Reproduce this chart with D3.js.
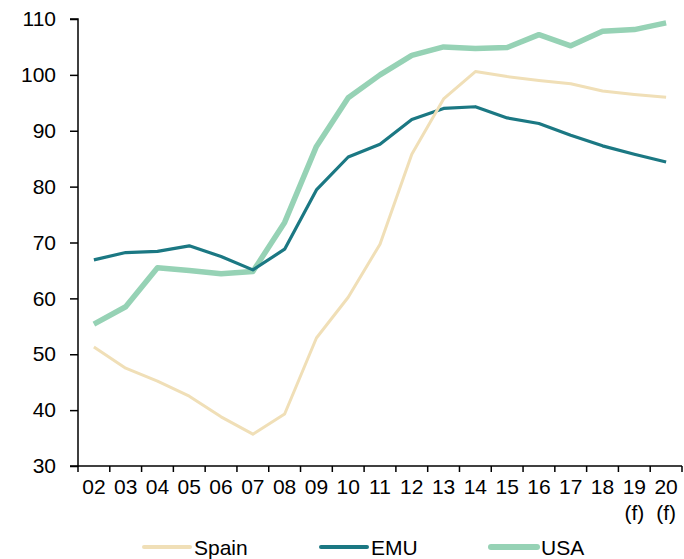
<!DOCTYPE html>
<html>
<head>
<meta charset="utf-8">
<script src="https://cdn.jsdelivr.net/npm/d3@7"></script>
<style>
  body { margin: 0; background: #fff; }
  text { font-family: "Liberation Sans", Arial, sans-serif; fill: #000; }
</style>
</head>
<body>
<div id="chart"></div>
<script>
var years = ['02','03','04','05','06','07','08','09','10','11','12','13','14','15','16','17','18','19','20'];
var forecast = ['19','20'];
var spain = [51.3,47.5,45.2,42.5,38.8,35.7,39.3,52.9,60.2,69.7,85.8,95.7,100.6,99.7,99.0,98.4,97.1,96.5,96.0];
var emu = [66.9,68.2,68.4,69.4,67.5,65.1,68.8,79.4,85.3,87.6,92.0,94.0,94.3,92.3,91.3,89.2,87.3,85.8,84.4];
var usa = [55.4,58.5,65.5,65.0,64.4,64.8,73.6,87.2,95.9,100.0,103.5,105.0,104.7,104.9,107.2,105.2,107.8,108.1,109.3];
var yTicks = [30,40,50,60,70,80,90,100,110];

var series = [
  { name: 'USA', values: usa, color: '#96d2b5', w: 5.5, lw: 6 },
  { name: 'EMU', values: emu, color: '#1b7883', w: 3.2, lw: 4 },
  { name: 'Spain', values: spain, color: '#f0dfb7', w: 3, lw: 4 }
];
var legendOrder = ['Spain','EMU','USA'];

var W = 684, H = 559;
var margin = { top: 19, right: 2, bottom: 93, left: 78 };
var width = W - margin.left - margin.right,
    height = H - margin.top - margin.bottom;

var svg = d3.select('#chart').append('svg')
    .attr('width', W)
    .attr('height', H);

var graph = svg.append('g')
    .attr('transform', 'translate(' + margin.left + ',' + margin.top + ')');

var x = d3.scaleBand().domain(years).range([0, width]);
var y = d3.scaleLinear().domain([30, 110]).range([height, 0]);

// y axis
var yAxis = graph.append('g')
    .call(d3.axisLeft(y).tickValues(yTicks).tickSize(8).tickPadding(14));
yAxis.selectAll('text').style('font-size', '21px').attr('fill', '#000');
yAxis.selectAll('line, path').attr('stroke', '#000').attr('stroke-width', 1.5);
yAxis.select('.domain').attr('d', 'M-8,' + height + 'H0V0H-8');

// x axis - ticks sit on band boundaries
var xg = graph.append('g').attr('transform', 'translate(0,' + height + ')');
xg.append('line').attr('x1', 0).attr('x2', width).attr('stroke', '#000').attr('stroke-width', 1.5);
xg.selectAll('.tk').data(years.concat(['end'])).enter().append('line')
    .attr('x1', function(d, i) { return i * x.bandwidth(); })
    .attr('x2', function(d, i) { return i * x.bandwidth(); })
    .attr('y1', 0).attr('y2', 6)
    .attr('stroke', '#000').attr('stroke-width', 1.5);
xg.selectAll('.lbl').data(years).enter().append('text')
    .attr('x', function(d) { return x(d) + x.bandwidth() / 2; })
    .attr('y', 28)
    .attr('text-anchor', 'middle')
    .style('font-size', '21px')
    .text(function(d) { return d; });
xg.selectAll('.fc').data(forecast).enter().append('text')
    .attr('x', function(d) { return x(d) + x.bandwidth() / 2; })
    .attr('y', 54)
    .attr('text-anchor', 'middle')
    .style('font-size', '21px')
    .text('(f)');

// lines
var line = d3.line()
    .x(function(d, i) { return x(years[i]) + x.bandwidth() / 2; })
    .y(function(d) { return y(d); });

graph.selectAll('.series').data(series).enter().append('path')
    .attr('fill', 'none')
    .attr('stroke', function(d) { return d.color; })
    .attr('stroke-width', function(d) { return d.w; })
    .attr('stroke-linejoin', 'round')
    .attr('d', function(d) { return line(d.values); });

// legend
var legX = [143, 320, 490];
function byName(n) { return series.find(function(s) { return s.name === n; }); }
var leg = svg.selectAll('.leg').data(legendOrder).enter().append('g')
    .attr('transform', function(d, i) { return 'translate(' + legX[i] + ',547)'; });
leg.append('line')
    .attr('x1', 1).attr('x2', 47)
    .attr('stroke', function(d) { return byName(d).color; })
    .attr('stroke-width', function(d) { return byName(d).lw; })
    .attr('stroke-linecap', 'round');
leg.append('text')
    .attr('x', 51).attr('y', 8)
    .style('font-size', '21px')
    .text(function(d) { return d; });
</script>
</body>
</html>
